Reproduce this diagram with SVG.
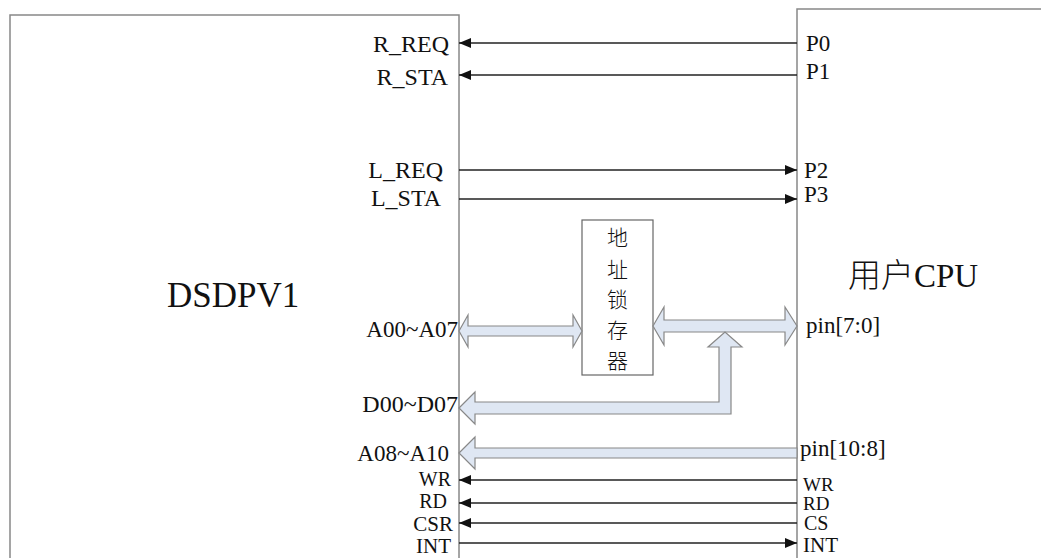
<svg xmlns="http://www.w3.org/2000/svg" width="1041" height="558" viewBox="0 0 1041 558" font-family="'Liberation Serif', 'Noto Sans CJK SC', serif">
<style>
.box{fill:#fff;stroke:#888;stroke-width:1.5}
.latch{fill:#fff;stroke:#666;stroke-width:1.2}
text{font-family:'Liberation Serif','Noto Sans CJK SC',serif;fill:#111}
.cjk{font-weight:300}
.sig{stroke:#222;stroke-width:1.6;fill:none}
.bus{fill:#dfe7f3;stroke:#888;stroke-width:1.2;stroke-linejoin:miter}
</style>
<defs>
<marker id="ah" markerUnits="userSpaceOnUse" markerWidth="12" markerHeight="10" refX="12" refY="5" orient="auto">
<path d="M0,0 L12,5 L0,10 z" fill="#111"/>
</marker>
</defs>
<rect width="1041" height="558" fill="#fff"/>
<g id="dsdpv1">
<rect class="box" x="10" y="15" width="449" height="560"/>
<text x="167" y="307" font-size="35">DSDPV1</text>
<g font-size="24" text-anchor="end">
<text x="449" y="52">R_REQ</text>
<text x="448" y="85">R_STA</text>
<text x="443" y="178">L_REQ</text>
<text x="441" y="206">L_STA</text>
<text x="458" y="337" font-size="23">A00~A07</text>
<text x="458" y="412">D00~D07</text>
<text x="449" y="461" font-size="23">A08~A10</text>
<text x="451" y="486" font-size="20">WR</text>
<text x="447" y="508" font-size="20">RD</text>
<text x="453" y="531" font-size="21">CSR</text>
<text x="451" y="553" font-size="21">INT</text>
</g>
</g>
<g id="cpu">
<rect class="box" x="797" y="9" width="300" height="570"/>
<text class="cjk" x="848" y="287" font-size="33">用户<tspan font-weight="400">CPU</tspan></text>
<g font-size="23">
<text x="806" y="51">P0</text>
<text x="806" y="79">P1</text>
<text x="804" y="178">P2</text>
<text x="804" y="202">P3</text>
<text x="806" y="333">pin[7:0]</text>
<text x="800" y="456">pin[10:8]</text>
<text x="803" y="491" font-size="19">WR</text>
<text x="803" y="510" font-size="19">RD</text>
<text x="804" y="530" font-size="20">CS</text>
<text x="803" y="552" font-size="21">INT</text>
</g>
</g>
<g id="latch">
<rect class="latch" x="582" y="220" width="71" height="155"/>
<g class="cjk" font-size="21" text-anchor="middle">
<text x="617.5" y="245">地</text>
<text x="617.5" y="277">址</text>
<text x="617.5" y="307">锁</text>
<text x="617.5" y="338">存</text>
<text x="617.5" y="368">器</text>
</g>
</g>
<g id="connectors">
<line class="sig" x1="797" y1="43" x2="459" y2="43" marker-end="url(#ah)"/>
<line class="sig" x1="797" y1="75" x2="459" y2="75" marker-end="url(#ah)"/>
<line class="sig" x1="459" y1="170" x2="797" y2="170" marker-end="url(#ah)"/>
<line class="sig" x1="459" y1="199" x2="797" y2="199" marker-end="url(#ah)"/>
<line class="sig" x1="797" y1="480" x2="459" y2="480" marker-end="url(#ah)"/>
<line class="sig" x1="797" y1="503" x2="459" y2="503" marker-end="url(#ah)"/>
<line class="sig" x1="797" y1="523" x2="459" y2="523" marker-end="url(#ah)"/>
<line class="sig" x1="459" y1="543" x2="797" y2="543" marker-end="url(#ah)"/>
<polygon class="bus" points="459,331 468,315 468,326 573,326 573,315 582,331 573,347 573,336 468,336 468,347"/>
<polygon class="bus" points="653,326 664,307 664,320 785,320 785,307 797,326 785,345 785,332 664,332 664,345"/>
<polygon class="bus" points="459,408 475,392 475,402 719,402 719,347 708,347 725,332 742,347 731,347 731,414 475,414 475,424"/>
<polygon class="bus" points="459,453 475,437 475,448 797,448 797,458 475,458 475,469"/>
</g>
</svg>
